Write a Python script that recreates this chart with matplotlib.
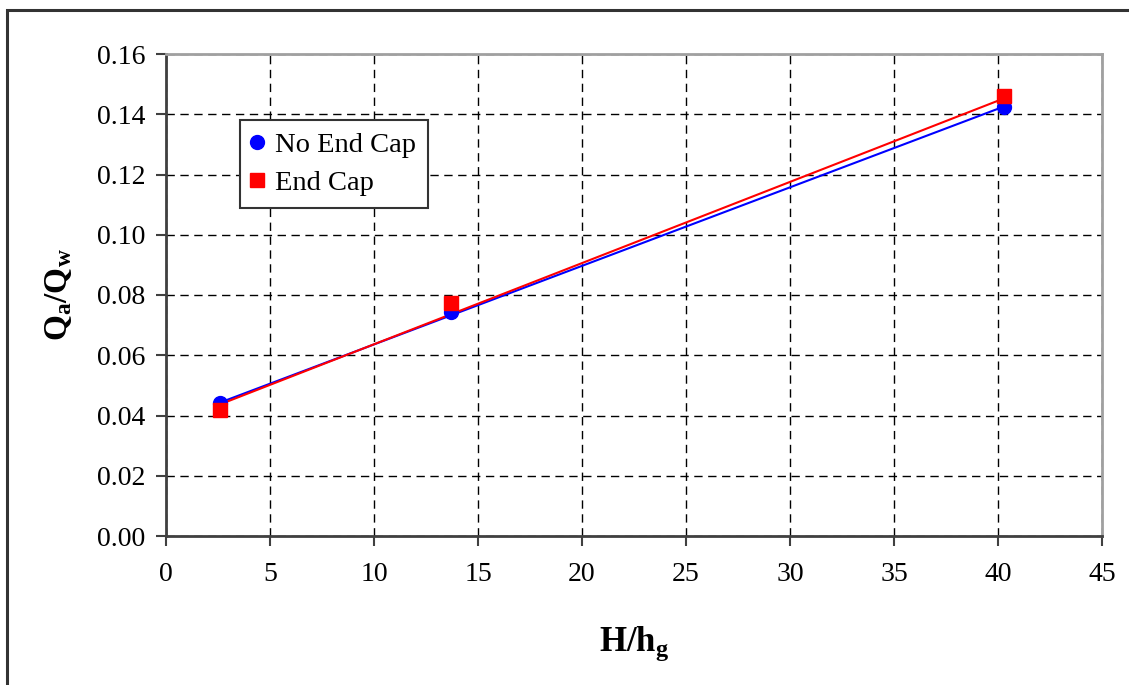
import numpy as np
import matplotlib
matplotlib.use('Agg')
import matplotlib.pyplot as plt
from matplotlib.patches import Rectangle


plt.rcParams['font.family'] = 'Liberation Serif'
plt.rcParams['mathtext.fontset'] = 'custom'
plt.rcParams['mathtext.rm'] = 'Liberation Serif'
plt.rcParams['mathtext.bf'] = 'Liberation Serif:bold'
plt.rcParams['mathtext.it'] = 'Liberation Serif:italic'


# Dati: rapporto H/hg e portate Qa/Qw
h_ratio     = [2.6, 13.7, 40.3]
q_no_cap    = [0.0441, 0.0745, 0.1425]
q_end_cap   = [0.0418, 0.0775, 0.1462]

# Rette di tendenza (valori agli estremi)
trend_x       = [2.6, 40.3]
trend_no_cap  = [0.0443, 0.1426]
trend_end_cap = [0.0437, 0.1453]

x_ticks = [0, 5, 10, 15, 20, 25, 30, 35, 40, 45]
y_ticks = [0.00, 0.02, 0.04, 0.06, 0.08, 0.10, 0.12, 0.14, 0.16]


fig = plt.figure(figsize=(11.29, 6.85), dpi=100)
ax = fig.add_axes([166/1129, 1-536/685, (1102-166)/1129, (536-54)/685])

# cornice esterna
fig.patches.append(Rectangle((7/1129, -0.05), 1.2, 1.05 - 10/685,
                             transform=fig.transFigure, fill=False,
                             edgecolor='#333333', linewidth=2.2, zorder=0))

# rette di tendenza
ax.plot(trend_x, trend_no_cap,  color='blue', lw=1.5, zorder=3)
ax.plot(trend_x, trend_end_cap, color='red',  lw=1.5, zorder=3)

# punti
ax.plot(h_ratio, q_no_cap, linestyle='none', marker='o', color='blue',
        markersize=10, label='No End Cap', zorder=4)
ax.plot(h_ratio, q_end_cap, linestyle='none', marker='s', color='red',
        markersize=9.5, label='End Cap', zorder=4)

ax.set_xlim(0, 45)
ax.set_ylim(0, 0.16)
ax.set_xticks(x_ticks)
ax.set_yticks(y_ticks)
ax.set_xticklabels([str(v) for v in x_ticks])
ax.set_yticklabels(['{:.2f}'.format(v) for v in y_ticks])
ax.tick_params(direction='out', length=7, width=1.5, labelsize=20,
               color='#404040', pad=8)
ax.tick_params(axis='x', pad=12)

ax.grid(True, color='black', linestyle=(0, (6, 4)), linewidth=1)
ax.set_axisbelow(True)

for s in ['left', 'bottom']:
    ax.spines[s].set_color('#404040')
    ax.spines[s].set_linewidth(2)
for s in ['top', 'right']:
    ax.spines[s].set_color('#a0a0a0')
    ax.spines[s].set_linewidth(2)

ax.set_xlabel(r'$\mathbf{H/h_g}$', fontsize=25, labelpad=27)
ax.set_ylabel(r'$\mathbf{Q_a/Q_w}$', fontsize=24, labelpad=16)

leg = ax.legend(loc='upper left', bbox_to_anchor=(74/936, 1-66/482),
                fontsize=20.5, frameon=True, fancybox=False, numpoints=1,
                handletextpad=0.45, handlelength=0.35, borderpad=0.42,
                labelspacing=0.42, borderaxespad=0)
leg.get_frame().set_edgecolor('#333333')
leg.get_frame().set_linewidth(1.5)
leg.get_frame().set_alpha(1)

fig.savefig('out.png', dpi=100)
